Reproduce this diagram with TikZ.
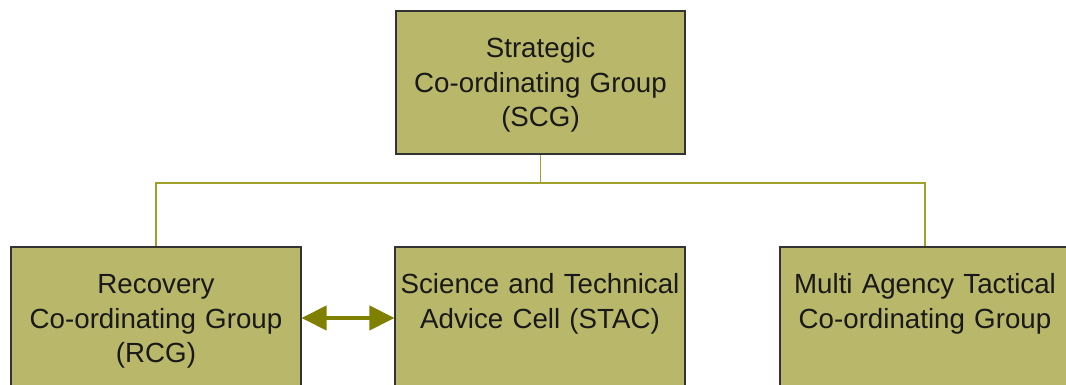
\documentclass[tikz,border=0pt]{standalone}
\usepackage{fontspec}
\setmainfont[WordSpace=0.8]{Liberation Sans}
\usetikzlibrary{arrows.meta}
\definecolor{grpfill}{RGB}{184,183,106}
\definecolor{linkcol}{RGB}{160,160,45}
\definecolor{arrowcol}{RGB}{128,128,0}
\tikzset{
  grp/.style={draw=black!80, line width=1.4pt, fill=grpfill, minimum width=7.225cm, minimum height=3.575cm, inner sep=0pt},
  grptext/.style={anchor=base, align=center, text width=7.6cm, inner sep=0pt, text=black!90,
    font=\fontsize{19.7}{24.2}\selectfont},
  link/.style={draw=linkcol, line width=1.4pt},
}
\begin{document}
\begin{tikzpicture}[x=0.025cm,y=-0.025cm]
                \clip (0,0) rectangle (1066,385);
                \fill[white] (0,0) rectangle (1066,385);

                % Kutular
                \node[grp] (scg) at (540.5,82.5) {};
                \node[grp] (rcg) at (156,318.5) {};
                \node[grp] (stac) at (540,318.5) {};
                \node[grp] (matcg) at (925,318.5) {};

                % Metinler (kutunun ustune hizali)
                \node[grptext] (scgtxt) at ([yshift=-48*0.025cm]scg.north) {Strategic\\Co-ordinating Group\\(SCG)};
                \node[grptext] (rcgtxt) at ([yshift=-48*0.025cm]rcg.north) {Recovery\\Co-ordinating Group\\(RCG)};
                \node[grptext] (stactxt) at ([yshift=-48*0.025cm]stac.north) {Science and Technical\\Advice Cell (STAC)};
                \node[grptext] (matcgtxt) at ([yshift=-48*0.025cm]matcg.north) {Multi Agency Tactical\\Co-ordinating Group};

                % Baglantilar
                \coordinate (bus) at (540.5,183);
                \draw[link] (scg.south) -- (bus);
                \draw[link] (rcg.north) |- (bus);
                \draw[link] (matcg.north) |- (bus);

                % Cift yonlu ok
                \draw[arrowcol, line width=3pt, {Triangle[length=25*0.025cm, width=24*0.025cm]}-{Triangle[length=25*0.025cm, width=24*0.025cm]}]
                  (rcg.east |- 0,318) -- (stac.west |- 0,318);
            \end{tikzpicture}
\end{document}
